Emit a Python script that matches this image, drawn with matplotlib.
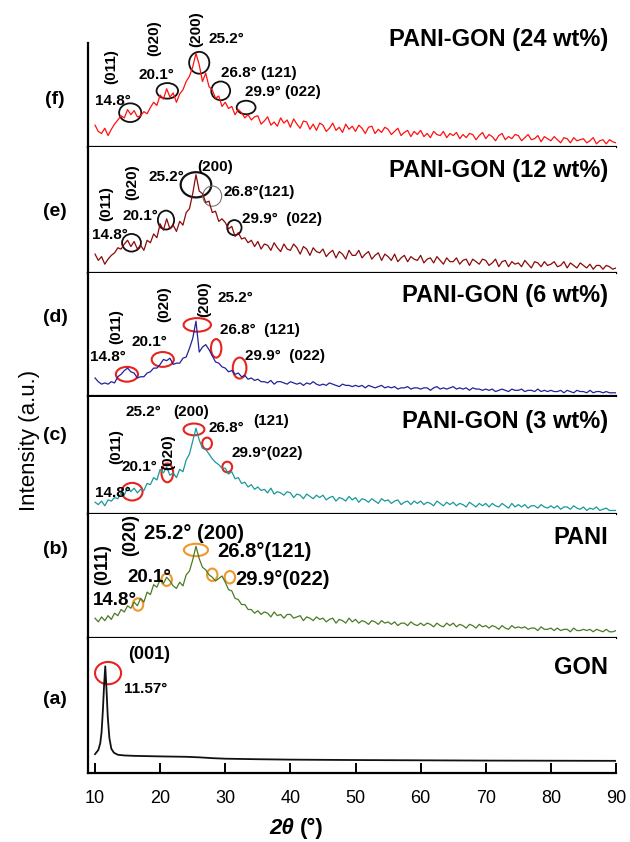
import numpy as np
import matplotlib
matplotlib.use("Agg")
import matplotlib.pyplot as plt
from matplotlib.patches import Ellipse

plt.rcParams['font.family'] = ['Liberation Sans', 'DejaVu Sans']

# 2theta grid (deg) for the PANI based patterns, 0.5 deg steps 10..90
two_theta = np.arange(10, 90.5, 0.5)

# intensities, in % of each panel height
pani_gon_24 = [21, 15, 13, 18, 11, 17, 22, 26, 30, 28,
               36, 31, 35, 29, 30, 34, 32, 38, 43, 40,
               50, 46, 56, 48, 52, 43, 51, 55, 63, 68,
               77, 90, 79, 63, 71, 58, 55, 47, 49, 39,
               43, 37, 39, 31, 36, 33, 28, 31, 26, 29,
               30, 22, 25, 29, 21, 24, 20, 28, 23, 26,
               19, 27, 22, 18, 25, 24, 17, 22, 16, 23,
               21, 15, 18, 23, 16, 19, 14, 22, 17, 20,
               15, 21, 18, 13, 19, 20, 13, 17, 14, 19,
               17, 12, 15, 18, 11, 14, 16, 10, 15, 12,
               16, 10, 13, 9, 15, 12, 11, 15, 9, 13,
               11, 14, 8, 12, 9, 13, 12, 7, 11, 14,
               8, 12, 10, 6, 11, 13, 7, 10, 8, 12,
               11, 6, 9, 12, 7, 8, 11, 5, 10, 8,
               6, 10, 7, 4, 9, 8, 4, 9, 6, 7,
               8, 4, 6, 9, 3, 6, 7, 3, 7, 5,
               4]

pani_gon_12 = [15, 10, 13, 7, 11, 14, 16, 20, 19, 23,
               26, 21, 25, 19, 22, 18, 26, 24, 31, 28,
               39, 34, 43, 35, 38, 33, 41, 38, 48, 51,
               63, 78, 65, 63, 56, 57, 48, 49, 41, 43,
               40, 35, 37, 29, 32, 27, 28, 24, 26, 21,
               25, 19, 23, 22, 18, 24, 20, 17, 23, 19,
               18, 23, 20, 15, 21, 19, 14, 20, 17, 16,
               19, 13, 16, 18, 12, 17, 15, 11, 18, 14,
               14, 18, 12, 15, 17, 11, 14, 16, 10, 15,
               13, 10, 15, 9, 12, 14, 9, 13, 11, 10,
               14, 8, 11, 12, 8, 13, 10, 7, 12, 9,
               9, 12, 7, 10, 11, 6, 11, 9, 7, 11,
               10, 6, 8, 11, 5, 9, 10, 5, 9, 7,
               8, 5, 10, 7, 4, 9, 8, 5, 9, 6,
               7, 9, 5, 6, 9, 4, 8, 6, 4, 8,
               6, 4, 7, 3, 6, 6, 3, 6, 5, 3,
               4]

pani_gon_6 = [15, 12, 10, 11, 10, 12, 11, 16, 18, 21,
              23, 20, 19, 15, 16, 16, 19, 20, 23, 23,
              26, 30, 29, 31, 26, 27, 27, 31, 32, 39,
              47, 61, 36, 40, 42, 38, 33, 28, 27, 24,
              23, 20, 21, 18, 19, 16, 17, 14, 15, 13,
              14, 12, 12, 11, 13, 10, 12, 12, 11, 10,
              12, 11, 10, 11, 9, 11, 10, 12, 10, 9,
              10, 9, 11, 10, 9, 8, 10, 9, 9, 8,
              9, 8, 9, 7, 9, 8, 7, 8, 9, 7,
              8, 7, 8, 6, 7, 7, 8, 6, 7, 7,
              6, 7, 7, 5, 7, 8, 6, 7, 6, 7,
              8, 6, 7, 6, 7, 5, 7, 6, 6, 5,
              6, 5, 6, 4, 5, 6, 5, 4, 6, 5,
              5, 6, 4, 5, 5, 4, 6, 4, 5, 4,
              5, 4, 4, 5, 3, 5, 4, 3, 5, 4,
              4, 3, 5, 3, 4, 4, 3, 4, 3, 3,
              3]

pani_gon_3 = [10, 8, 11, 7, 12, 11, 14, 13, 18, 16,
              23, 19, 22, 18, 21, 20, 26, 25, 31, 29,
              38, 35, 40, 33, 35, 31, 38, 36, 46, 51,
              62, 73, 63, 56, 55, 51, 47, 44, 42, 39,
              39, 34, 36, 30, 31, 26, 27, 23, 25, 21,
              23, 20, 21, 18, 22, 17, 19, 18, 16, 19,
              18, 14, 17, 16, 13, 17, 15, 13, 16, 14,
              16, 12, 14, 15, 11, 14, 13, 11, 15, 12,
              14, 10, 13, 12, 10, 13, 11, 9, 13, 11,
              12, 9, 11, 12, 8, 10, 11, 8, 11, 9,
              11, 8, 10, 9, 7, 11, 9, 7, 10, 8,
              10, 7, 9, 8, 6, 10, 8, 6, 9, 7,
              9, 6, 9, 7, 6, 9, 7, 5, 9, 6,
              8, 6, 8, 5, 7, 7, 5, 8, 6, 5,
              7, 5, 7, 4, 6, 6, 4, 7, 5, 4,
              6, 3, 5, 4, 6, 3, 4, 5, 3, 3,
              3]

pani = [16, 13, 17, 14, 18, 15, 20, 18, 23, 21,
        26, 24, 29, 26, 32, 29, 37, 35, 43, 41,
        47, 44, 49, 46, 42, 40, 45, 42, 51, 54,
        63, 74, 64, 57, 55, 51, 49, 46, 48, 50,
        45, 39, 38, 32, 31, 27, 27, 23, 23, 20,
        22, 19, 21, 20, 17, 21, 18, 19, 16, 19,
        19, 16, 17, 18, 14, 17, 16, 14, 17, 15,
        16, 13, 15, 16, 12, 15, 14, 12, 16, 13,
        15, 12, 14, 13, 11, 14, 13, 11, 14, 12,
        13, 11, 13, 10, 12, 12, 10, 13, 11, 10,
        12, 10, 12, 11, 9, 12, 10, 9, 12, 10,
        12, 9, 11, 10, 8, 11, 10, 8, 11, 9,
        10, 8, 10, 9, 7, 10, 8, 7, 10, 8,
        9, 8, 9, 7, 8, 8, 6, 9, 7, 7,
        8, 6, 8, 6, 7, 7, 5, 8, 6, 6,
        7, 6, 7, 5, 7, 6, 5, 7, 5, 5,
        6]

gon_x = [10, 10.5, 10.8, 11.0, 11.2, 11.4, 11.57, 11.75, 11.95, 12.2, 12.5,
         12.9, 13.5, 14.5, 16, 20, 24, 26, 28, 30, 35, 40, 50, 60, 70, 80, 90]
gon_y = [14, 17, 22, 30, 46, 66, 79, 63, 42, 26, 18,
         15, 13.5, 13, 12.7, 12.3, 12, 11.6, 11, 10.6, 10.2, 9.9, 9.6, 9.4, 9.2, 9.1, 9]

x_ticks = [10, 20, 30, 40, 50, 60, 70, 80, 90]

fig = plt.figure(figsize=(6.3, 8.42), dpi=100)
gs = fig.add_gridspec(6, 1, left=88/630, right=616/630, bottom=1-773/842, top=1-43/842,
                      hspace=0, height_ratios=[104, 126, 123.5, 117.5, 124, 135])
axes = [fig.add_subplot(gs[i]) for i in range(6)]

BLACK = '#111111'
ORANGE = '#f0962a'
RED = '#e8231f'


def draw_panel(ax, x, y, color, title, title_y, labels, circles, lw=0.9):
    ax.plot(x, y, color=color, lw=lw)
    ax.set_xlim(8.92, 90)
    ax.set_ylim(0, 100)
    for s in ['top', 'right']:
        ax.spines[s].set_visible(False)
    ax.spines['left'].set_linewidth(1.6)
    ax.spines['bottom'].set_linewidth(1.6)
    ax.set_yticks([])
    ax.set_xticks([])
    ax.text(88.8, title_y, title, ha='right', va='center', fontsize=17,
            fontweight='bold', clip_on=False)
    for txt, tx, ty, ha, rot, fs in labels:
        ax.text(tx, ty, txt, ha=ha, va='center', rotation=rot, fontsize=fs,
                fontweight='bold', clip_on=False)
    for cx, cy, w, h, c, clw in circles:
        ax.add_patch(Ellipse((cx, cy), w, h, fill=False, ec=c, lw=clw, clip_on=False))


# (f) PANI-GON 24 wt%
draw_panel(axes[0], two_theta, pani_gon_24, '#ff1010', 'PANI-GON (24 wt%)', 103,
           [('(011)', 12.5, 77, 'center', 90, 11),
            ('(020)', 19.1, 105, 'center', 90, 11),
            ('(200)', 25.5, 113, 'center', 90, 11),
            ('25.2°', 30.2, 104, 'center', 0, 11),
            ('20.1°', 19.4, 69, 'center', 0, 11),
            ('14.8°', 12.8, 44, 'center', 0, 11),
            ('26.8° (121)', 29.3, 71, 'left', 0, 11),
            ('29.9° (022)', 33.1, 53, 'left', 0, 11)],
           [(15.4, 33, 3.4, 18, BLACK, 1.3),
            (21.1, 54, 3.3, 15, BLACK, 1.3),
            (26.0, 81, 3.1, 21, BLACK, 1.3),
            (29.3, 54, 2.9, 18, BLACK, 1.3),
            (33.2, 38, 2.9, 13, BLACK, 1.3)])

# (e) PANI-GON 12 wt%
draw_panel(axes[1], two_theta, pani_gon_12, '#8a0a0a', 'PANI-GON (12 wt%)', 81,
           [('(011)', 11.7, 55, 'center', 90, 11),
            ('(020)', 15.7, 72, 'center', 90, 11),
            ('25.2°', 21.0, 76, 'center', 0, 11),
            ('(200)', 28.4, 84, 'center', 0, 11),
            ('26.8°(121)', 29.7, 64, 'left', 0, 11),
            ('20.1°', 17.0, 45, 'center', 0, 11),
            ('14.8°', 12.3, 30, 'center', 0, 11),
            ('29.9°  (022)', 32.6, 43, 'left', 0, 11)],
           [(15.6, 24, 2.9, 14, BLACK, 1.3),
            (20.9, 42, 2.5, 15, BLACK, 1.3),
            (25.5, 70, 4.7, 20, BLACK, 1.6),
            (28.0, 61, 2.9, 16, '#777777', 0.8),
            (31.4, 36, 2.2, 12, BLACK, 1.3)])

# (d) PANI-GON 6 wt%
draw_panel(axes[2], two_theta, pani_gon_6, '#22229a', 'PANI-GON (6 wt%)', 82,
           [('(011)', 13.3, 57, 'center', 90, 11),
            ('(020)', 20.7, 75, 'center', 90, 11),
            ('(200)', 26.8, 79, 'center', 90, 11),
            ('25.2°', 31.5, 80, 'center', 0, 11),
            ('20.1°', 18.3, 44, 'center', 0, 11),
            ('14.8°', 12.0, 32, 'center', 0, 11),
            ('26.8°  (121)', 29.2, 54, 'left', 0, 11),
            ('29.9°  (022)', 33.1, 33, 'left', 0, 11)],
           [(14.9, 18, 3.4, 12, RED, 1.5),
            (20.4, 30, 3.4, 12, RED, 1.5),
            (25.7, 58, 4.2, 11, RED, 1.5),
            (28.6, 39, 1.6, 15, RED, 1.5),
            (32.2, 23, 2.1, 17, RED, 1.5)])

# (c) PANI-GON 3 wt%
draw_panel(axes[3], two_theta, pani_gon_3, '#1a9898', 'PANI-GON (3 wt%)', 79,
           [('(011)', 13.3, 57, 'center', 90, 11),
            ('(020)', 21.2, 53, 'center', 90, 11),
            ('25.2°', 17.5, 87, 'center', 0, 11),
            ('(200)', 24.7, 87, 'center', 0, 11),
            ('26.8°', 30.2, 73, 'center', 0, 11),
            ('(121)', 37.1, 79, 'center', 0, 11),
            ('29.9°(022)', 31.0, 52, 'left', 0, 11),
            ('20.1°', 16.8, 40, 'center', 0, 11),
            ('14.8°', 12.8, 18, 'center', 0, 11)],
           [(15.7, 19, 3.2, 15, RED, 1.5),
            (21.1, 35, 1.8, 16, RED, 1.5),
            (25.2, 72, 3.2, 10, RED, 1.5),
            (27.2, 60, 1.5, 10, RED, 1.5),
            (30.3, 40, 1.5, 9, RED, 1.5)])

# (b) PANI
draw_panel(axes[4], two_theta, pani, '#4c7a26', 'PANI', 81,
           [('(011)', 11.2, 59, 'center', 90, 13),
            ('(020)', 15.4, 83, 'center', 90, 13),
            ('25.2° (200)', 17.5, 84, 'left', 0, 14.5),
            ('26.8°(121)', 28.8, 70, 'left', 0, 14.5),
            ('20.1°', 18.3, 49, 'center', 0, 13.5),
            ('14.8°', 13.1, 30, 'center', 0, 13.5),
            ('29.9°(022)', 31.5, 47, 'left', 0, 14.5)],
           [(16.6, 27, 1.6, 10, ORANGE, 1.5),
            (21.0, 47, 1.6, 10, ORANGE, 1.5),
            (25.5, 71, 3.7, 10, ORANGE, 1.5),
            (28.0, 51, 1.6, 10, ORANGE, 1.5),
            (30.7, 49, 1.6, 10, ORANGE, 1.5)])

# (a) GON
draw_panel(axes[5], gon_x, gon_y, '#111111', 'GON', 78,
           [('(001)', 18.3, 88, 'center', 0, 13),
            ('11.57°', 17.8, 62, 'center', 0, 11)],
           [(12.0, 74, 4.0, 16.5, RED, 1.5)], lw=1.3)

ax = axes[5]
ax.set_xticks(x_ticks)
ax.set_xticklabels([str(t) for t in x_ticks])
ax.tick_params(axis='x', direction='in', length=7, width=1.4, labelsize=13, pad=12)

# panel letters
for letter, py in zip(['(f)', '(e)', '(d)', '(c)', '(b)', '(a)'],
                      [100, 212, 318, 435, 550, 700]):
    fig.text(55/630, 1 - py/842, letter, ha='center', va='center', fontsize=14, fontweight='bold')

fig.text(30/630, 1 - 440/842, 'Intensity (a.u.)', rotation=90, ha='center', va='center',
         fontsize=16)
fig.text(294/630, 1 - 828/842, '2θ', ha='right', va='center', fontsize=16,
         fontweight='bold', style='italic')
fig.text(300/630, 1 - 828/842, '(°)', ha='left', va='center', fontsize=16, fontweight='bold')

fig.savefig('out.png', dpi=100)
